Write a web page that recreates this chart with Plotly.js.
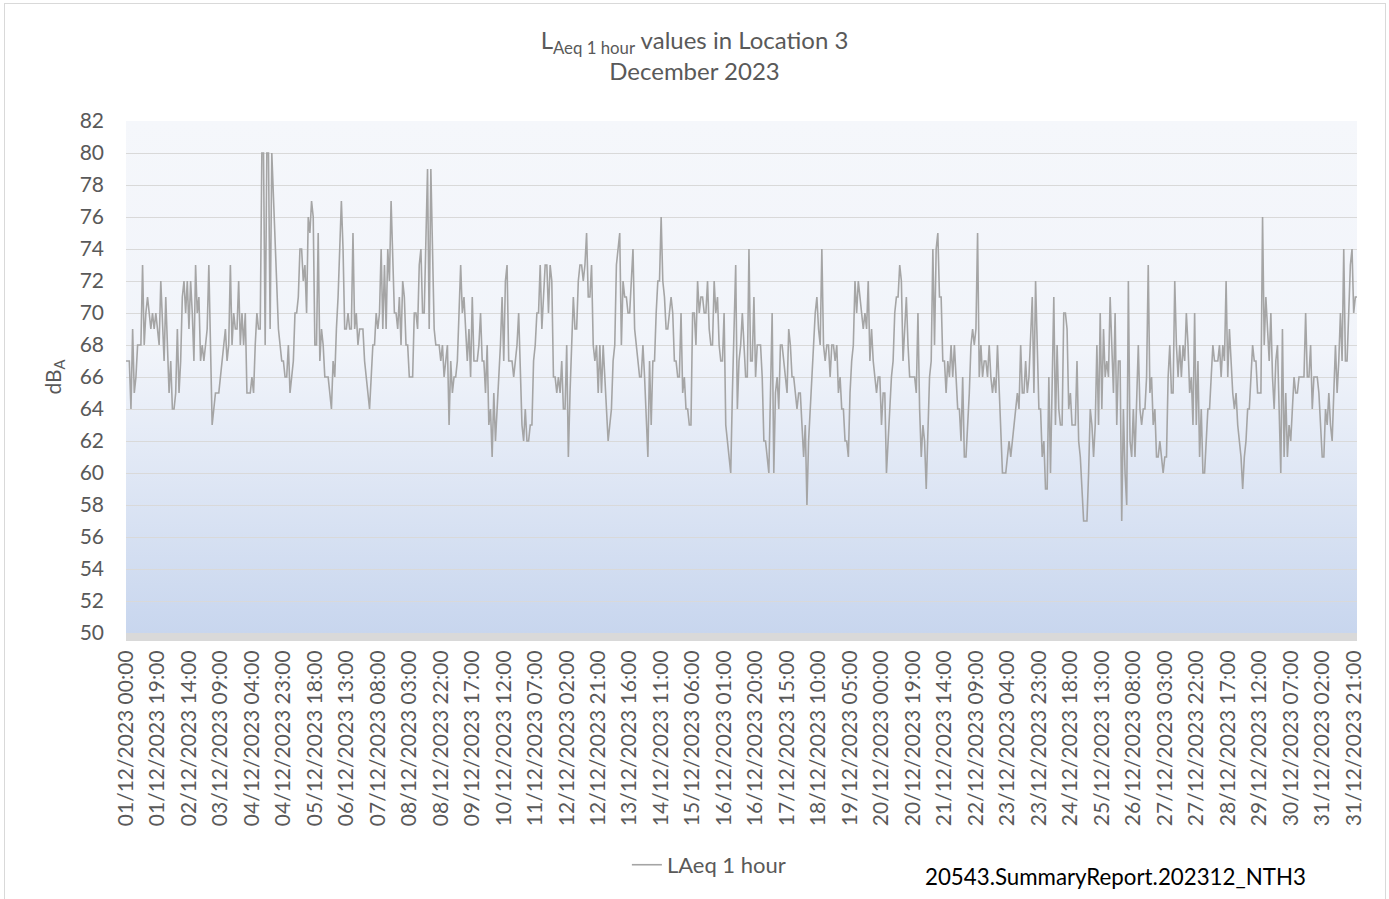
<!DOCTYPE html>
<html><head><meta charset="utf-8">
<script src="https://cdn.plot.ly/plotly-3.0.1.min.js"></script>
<style>
html,body{margin:0;padding:0;background:#fff;}
#wrap{position:relative;width:1389px;height:899px;overflow:hidden;}
#chart{position:absolute;left:0;top:0;width:1389px;height:899px;}
#frame{position:absolute;left:4px;top:3px;width:1380px;height:940px;border:1px solid #d9d9d9;pointer-events:none;}
</style></head>
<body><div id="wrap"><div id="chart"></div><div id="frame"></div></div>
<script>
// Hourly LAeq values (dBA), one array per day of December 2023, hours 00..23
const dec01 = [67,67,67,64,69,65,66,68,68,68,73,68,70,71,70,69,70,69,70,69,68,72,69,67];
const dec02 = [71,68,65,67,64,64,65,69,65,67,71,72,70,72,69,72,70,67,73,70,71,67,68,67];
const dec03 = [68,69,73,68,63,64,65,65,65,66,67,68,69,67,68,73,68,70,69,69,72,68,70,68];
const dec04 = [70,65,65,65,66,65,68,70,69,69,80,80,68,80,80,69,80,77,74,71,69,68,67,67];
const dec05 = [66,66,68,65,66,67,70,70,71,74,74,72,73,70,76,75,77,76,68,68,75,67,69,68];
const dec06 = [66,66,66,65,64,67,66,69,71,74,77,74,69,69,70,69,69,75,69,70,68,69,69,69];
const dec07 = [67,66,65,64,66,68,68,70,69,70,74,69,73,69,74,72,77,74,70,70,69,71,68,72];
const dec08 = [71,68,68,66,66,66,70,70,69,73,74,70,70,75,79,69,79,74,69,68,68,68,67,68];
const dec09 = [66,67,68,63,67,65,66,66,67,70,73,70,71,69,67,69,66,71,67,67,67,68,70,67];
const dec10 = [67,65,68,63,64,61,65,62,64,66,68,71,67,72,73,67,67,67,66,67,68,70,67,63];
const dec11 = [62,64,62,62,63,63,67,68,70,70,73,69,71,73,73,70,73,72,66,66,65,66,65,67];
const dec12 = [64,64,68,61,65,68,71,69,69,72,73,73,72,73,75,71,71,73,68,67,68,65,68,65];
const dec13 = [68,66,64,62,63,64,67,68,73,74,75,68,72,71,71,70,70,72,74,69,68,67,66,66];
const dec14 = [68,66,63,61,67,63,67,67,70,72,72,76,72,71,69,69,70,71,70,67,67,66,66,70];
const dec15 = [65,66,64,64,63,63,70,70,68,72,70,71,71,70,70,72,69,68,68,72,70,71,68,67];
const dec16 = [67,70,63,62,61,60,65,69,73,64,67,68,70,68,66,66,74,67,67,71,66,68,68,68];
const dec17 = [66,62,62,61,60,65,70,60,65,66,64,68,68,67,66,65,69,68,66,66,65,64,65,65];
const dec18 = [63,61,63,58,62,64,66,68,70,71,69,68,74,68,67,68,68,66,68,68,67,68,65,66];
const dec19 = [64,64,62,62,61,65,67,68,72,70,72,71,70,69,70,69,72,67,69,67,66,65,66,66];
const dec20 = [63,65,65,60,62,64,66,67,70,71,71,73,72,67,69,71,68,66,66,66,66,65,70,64];
const dec21 = [61,63,62,59,62,66,67,74,68,74,75,71,71,67,67,65,67,66,68,66,68,66,64,64];
const dec22 = [62,66,61,61,63,65,68,69,68,69,75,66,68,66,67,67,66,68,66,65,66,65,68,65];
const dec23 = [62,60,60,60,61,62,61,62,63,64,65,64,68,65,65,67,65,66,69,71,65,72,68,64];
const dec24 = [64,61,62,59,59,66,60,66,71,63,68,64,63,63,70,70,69,64,65,63,63,63,67,62];
const dec25 = [61,59,57,57,57,60,64,63,61,63,68,63,70,64,69,66,67,66,71,68,65,70,63,67];
const dec26 = [67,57,64,60,58,72,62,61,64,61,64,68,64,63,64,64,66,73,65,66,63,64,61,61];
const dec27 = [62,61,60,61,61,66,68,65,65,72,68,66,68,66,68,67,70,68,65,66,63,70,63,67];
const dec28 = [61,64,60,60,62,64,64,66,68,67,67,67,68,66,68,67,72,66,69,67,65,64,65,63];
const dec29 = [62,61,59,61,62,64,64,66,68,67,67,65,65,65,76,68,71,69,67,70,66,64,67,68];
const dec30 = [63,60,69,61,65,61,63,62,64,66,65,65,66,66,66,66,70,66,66,68,64,66,66,66];
const dec31 = [65,63,61,61,64,63,65,63,62,65,68,65,67,70,67,74,67,67,70,73,74,70,71,71];

const dayLabels = ["01","02","03","04","05","06","07","08","09","10","11","12","13","14","15","16",
  "17","18","19","20","21","22","23","24","25","26","27","28","29","30","31"];
const hourLabels = ["00:00","01:00","02:00","03:00","04:00","05:00","06:00","07:00","08:00","09:00","10:00","11:00",
  "12:00","13:00","14:00","15:00","16:00","17:00","18:00","19:00","20:00","21:00","22:00","23:00"];

const tickLabels = [
  "01/12/2023 00:00","01/12/2023 19:00","02/12/2023 14:00","03/12/2023 09:00","04/12/2023 04:00",
  "04/12/2023 23:00","05/12/2023 18:00","06/12/2023 13:00","07/12/2023 08:00","08/12/2023 03:00",
  "08/12/2023 22:00","09/12/2023 17:00","10/12/2023 12:00","11/12/2023 07:00","12/12/2023 02:00",
  "12/12/2023 21:00","13/12/2023 16:00","14/12/2023 11:00","15/12/2023 06:00","16/12/2023 01:00",
  "16/12/2023 20:00","17/12/2023 15:00","18/12/2023 10:00","19/12/2023 05:00","20/12/2023 00:00",
  "20/12/2023 19:00","21/12/2023 14:00","22/12/2023 09:00","23/12/2023 04:00","23/12/2023 23:00",
  "24/12/2023 18:00","25/12/2023 13:00","26/12/2023 08:00","27/12/2023 03:00","27/12/2023 22:00",
  "28/12/2023 17:00","29/12/2023 12:00","30/12/2023 07:00","31/12/2023 02:00","31/12/2023 21:00"];

const seriesName = "LAeq 1 hour";

const days = [dec01,dec02,dec03,dec04,dec05,dec06,dec07,dec08,dec09,dec10,dec11,dec12,dec13,dec14,dec15,dec16,
  dec17,dec18,dec19,dec20,dec21,dec22,dec23,dec24,dec25,dec26,dec27,dec28,dec29,dec30,dec31];
const categories = [];
const laeq = [];
days.forEach((vals, d) => {
  vals.forEach((v, h) => {
    categories.push(dayLabels[d] + "/12/2023 " + hourLabels[h]);
    laeq.push(v);
  });
});

const bgSvg = "<svg xmlns='http://www.w3.org/2000/svg' width='100' height='100' preserveAspectRatio='none'>" +
  "<defs><linearGradient id='g' x1='0' y1='0' x2='0' y2='1'>" +
  "<stop offset='0' stop-color='#f5f7fb'/><stop offset='0.45' stop-color='#f1f4fa'/>" +
  "<stop offset='1' stop-color='#c8d6ee'/></linearGradient></defs>" +
  "<rect width='100' height='100' fill='url(#g)'/></svg>";

const trace = {
  type: 'scatter', mode: 'lines',
  x: categories, y: laeq, name: seriesName,
  line: {color: '#a5a5a5', width: 1.6},
  hoverinfo: 'skip'
};

const layout = {
  width: 1389, height: 899,
  margin: {l: 126, r: 32, t: 121, b: 266, pad: 0},
  paper_bgcolor: '#ffffff', plot_bgcolor: 'rgba(0,0,0,0)',
  font: {family: 'Lato, sans-serif', color: '#595959'},
  title: {
    text: 'L<sub>Aeq 1 hour</sub> values in Location 3<br>December 2023',
    font: {size: 24, color: '#595959', family: 'Lato, sans-serif'},
    x: 0.5, xref: 'container', xanchor: 'center',
    y: 1 - 49/899, yref: 'container', yanchor: 'middle'
  },
  xaxis: {
    type: 'category', range: [0, 743],
    tickmode: 'array', tickvals: tickLabels, ticktext: tickLabels,
    tickangle: -90, tickfont: {size: 21, color: '#595959'},
    showgrid: false, zeroline: false, ticks: '',
    showline: true, linecolor: '#d9d9d9', linewidth: 8,
    ticklabelstandoff: 1, automargin: false, fixedrange: true
  },
  yaxis: {
    range: [50, 82], tick0: 50, dtick: 2,
    showgrid: true, gridcolor: '#d9d9d9', gridwidth: 1,
    zeroline: false, showline: false, ticks: '',
    tickfont: {size: 21, color: '#595959'},
    ticklabelstandoff: 21,
    title: {text: 'dB<sub>A</sub>', font: {size: 21, color: '#595959'}, standoff: 12},
    automargin: false, fixedrange: true
  },
  showlegend: true,
  legend: {
    orientation: 'h', x: 0.4735, xanchor: 'center', y: -0.453, yanchor: 'middle',
    font: {size: 22, color: '#595959'}, bgcolor: 'rgba(0,0,0,0)'
  },
  annotations: [{
    text: '20543.SummaryReport.202312_NTH3', xref: 'paper', yref: 'paper',
    x: 0.9602, y: -0.475, xanchor: 'right', yanchor: 'middle', showarrow: false,
    font: {size: 22.3, color: '#000000', family: 'Lato, sans-serif'}
  }],
  images: [{
    source: 'data:image/svg+xml;charset=utf-8,' + encodeURIComponent(bgSvg),
    xref: 'paper', yref: 'paper', x: 0, y: 1, sizex: 1, sizey: 1,
    xanchor: 'left', yanchor: 'top', sizing: 'stretch', layer: 'below'
  }]
};

Plotly.newPlot('chart', [trace], layout, {displayModeBar: false, staticPlot: true});
</script>
</body></html>
